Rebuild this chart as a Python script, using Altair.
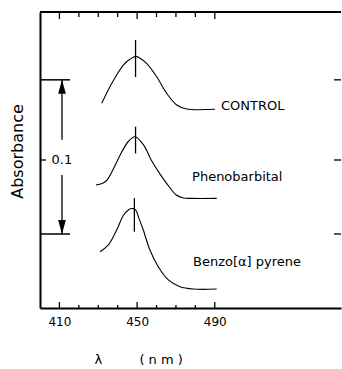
import altair as alt
import pandas as pd

# ---- spectra: wavelength (nm) and absorbance ----
control_nm = [431.8, 436.0, 439.5, 442.9, 446.3, 449.3, 451.5, 454.9, 460.1, 465.2, 470.4, 475.5, 490.1]
control_abs = [0.1328, 0.1435, 0.1511, 0.1576, 0.1613, 0.1632, 0.1620, 0.1587, 0.1500, 0.1393, 0.1317, 0.1291, 0.1289]

pheno_nm = [428.8, 432.0, 434.5, 437.7, 442.1, 445.5, 448.9, 453.2, 457.5, 462.7, 466.9, 470.0, 473.8, 478.0, 491.0]
pheno_abs = [0.0798, 0.0808, 0.0830, 0.0900, 0.1012, 0.1080, 0.1111, 0.1060, 0.0955, 0.0852, 0.0780, 0.0735, 0.0714, 0.0711, 0.0711]

benzo_nm = [430.9, 435.2, 439.5, 442.9, 445.5, 447.5, 449.2, 451.0, 453.2, 456.6, 460.9, 466.1, 472.1, 478.9, 491.0]
benzo_abs = [0.0365, 0.0409, 0.0506, 0.0600, 0.0636, 0.0645, 0.0637, 0.0580, 0.0506, 0.0376, 0.0268, 0.0182, 0.0138, 0.0123, 0.0123]

series_names = ["CONTROL", "Phenobarbital", "Benzo[α] pyrene"]

# peak markers (vertical strokes through each maximum)
marker_nm = [449.2, 449.2, 448.6]
marker_low = [0.1498, 0.1003, 0.0495]
marker_high = [0.1738, 0.1176, 0.0713]

# 0.1 absorbance scale bar
bar_low = 0.048
bar_high = 0.148
bar_label = "0.1"

# axis ticks
x_ticks = [410, 420, 430, 440, 450, 460, 470, 480, 490]
x_major = [410, 450, 490]

FONT = "DejaVu Sans"
X0, X1 = 400, 555
Y0, Y1 = 0.0, 0.192
PX = 296 / (Y1 - Y0)          # pixels per absorbance unit
NMPX = 301 / (X1 - X0)        # pixels per nm

rows = []
for name, xs_, ys_ in zip(series_names, [control_nm, pheno_nm, benzo_nm],
                          [control_abs, pheno_abs, benzo_abs]):
    for i, (x, y) in enumerate(zip(xs_, ys_)):
        rows.append({"series": name, "nm": x, "A": y, "order": i})
curves = pd.DataFrame(rows)

# line segments: frame, ticks, scale bar, peak markers
mid = (bar_low + bar_high) / 2 - 0.002
segs = []
segs.append((X0, X1, Y1, Y1, 2.0))  # top frame line
for t in x_ticks:
    big = t in x_major
    segs.append((t, t, Y0, Y0 + (6 if big else 3) / PX, 1.3))
    segs.append((t, t, Y1, Y1 - (7 if big else 5) / PX, 1.3))
for v in [bar_high, mid, bar_low]:
    segs.append((X1 - 7 / NMPX, X1, v, v, 1.3))  # right-side ticks
segs.append((X0, X0 + 6 / NMPX, mid, mid, 1.3))
bar_x = X0 + 22 / NMPX
for v in [bar_low, bar_high]:
    segs.append((X0, X0 + 30 / NMPX, v, v, 1.5))
segs.append((bar_x, bar_x, bar_high, bar_high - 60 / PX, 1.3))
segs.append((bar_x, bar_x, bar_low, bar_low + 59 / PX, 1.3))
for m, lo, hi in zip(marker_nm, marker_low, marker_high):
    segs.append((m, m, lo, hi, 1.3))
seg_df = pd.DataFrame(segs, columns=["x", "x2", "y", "y2", "w"])

heads = pd.DataFrame({
    "x": [bar_x, bar_x],
    "y": [bar_high - 7 / PX, bar_low + 7 / PX],
    "dir": ["up", "down"],
})

labels = pd.DataFrame({
    "text": series_names + [bar_label],
    "x": [493.2, 478.3, 478.8, X0 + 11.5 / NMPX],
    "y": [0.131, 0.085, 0.0300, mid],
    "size": [13, 13, 13, 13],
})

xs = alt.Scale(domain=[X0, X1], nice=False, zero=False)
ys = alt.Scale(domain=[Y0, Y1], nice=False, zero=False)

x_title = "λ" + "\u00a0" * 9 + "(\u00a0n\u00a0m\u00a0)"

x_axis = alt.Axis(
    values=x_major, ticks=False, grid=False, domainColor="black", domainWidth=2,
    labelFont=FONT, labelFontSize=12, labelColor="black", labelPadding=8,
    title=x_title, titleFont=FONT, titleFontSize=13, titleFontWeight="normal",
    titleColor="black", titleX=54, titleY=55, titleAlign="left", titleBaseline="alphabetic")
y_axis = alt.Axis(
    labels=False, ticks=False, grid=False, domainColor="black", domainWidth=2,
    title="Absorbance", titleFont=FONT, titleFontSize=16, titleFontWeight="normal",
    titleColor="black", titlePadding=15, titleY=139)

lines = alt.Chart(curves).mark_line(color="black", strokeWidth=1.1, interpolate="catmull-rom").encode(
    x=alt.X("nm:Q", scale=xs, axis=x_axis),
    y=alt.Y("A:Q", scale=ys, axis=y_axis),
    detail="series:N",
    order="order:Q",
)

rules = alt.Chart(seg_df).mark_rule(color="black").encode(
    x=alt.X("x:Q", scale=xs, axis=x_axis), x2="x2:Q",
    y=alt.Y("y:Q", scale=ys, axis=y_axis), y2="y2:Q",
    strokeWidth=alt.StrokeWidth("w:Q", scale=None),
)

arrow_heads = alt.Chart(heads).mark_point(filled=True, color="black", opacity=1, size=196).encode(
    x=alt.X("x:Q", scale=xs, axis=x_axis),
    y=alt.Y("y:Q", scale=ys, axis=y_axis),
    shape=alt.Shape("dir:N", scale=alt.Scale(
        domain=["up", "down"],
        range=["M0,-1L0.55,1L-0.55,1Z", "M0,1L0.55,-1L-0.55,-1Z"]), legend=None),
)

texts = alt.Chart(labels).mark_text(align="left", baseline="middle", font=FONT, color="black").encode(
    x=alt.X("x:Q", scale=xs, axis=x_axis),
    y=alt.Y("y:Q", scale=ys, axis=y_axis),
    text="text:N",
    size=alt.Size("size:Q", scale=None),
)

chart = alt.layer(lines, rules, arrow_heads, texts).properties(
    width=301, height=296,
    autosize=alt.AutoSizeParams(type="none"),
    padding={"left": 40, "top": 12, "right": 1, "bottom": 61},
    background="white",
).configure_view(stroke=None)

chart.save("out.html", embed_options={"renderer": "svg", "actions": False})
